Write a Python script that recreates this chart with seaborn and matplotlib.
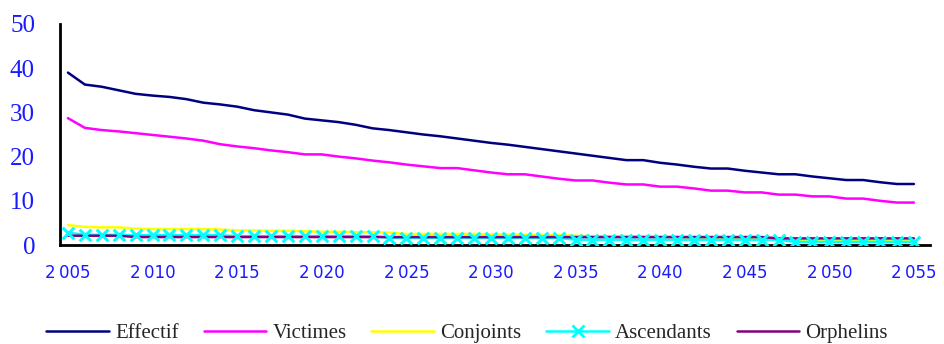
import matplotlib
matplotlib.use("Agg")
import matplotlib.pyplot as plt
from matplotlib.lines import Line2D
import seaborn as sns
import pandas as pd

years = list(range(2005, 2056))
effectif = [39.0, 36.3, 35.8, 35.0, 34.2, 33.8, 33.5, 33.0, 32.2, 31.8,
            31.3, 30.5, 30.0, 29.5, 28.6, 28.2, 27.8, 27.2, 26.4, 26.0,
            25.5, 25.0, 24.6, 24.1, 23.6, 23.1, 22.7, 22.2, 21.7, 21.2,
            20.7, 20.2, 19.7, 19.2, 19.2, 18.6, 18.2, 17.7, 17.3, 17.3,
            16.8, 16.4, 16.0, 16.0, 15.5, 15.1, 14.7, 14.7, 14.2, 13.8, 13.8]
victimes = [28.7, 26.5, 26.0, 25.7, 25.3, 24.9, 24.5, 24.1, 23.6, 22.8,
            22.3, 21.9, 21.4, 21.0, 20.5, 20.5, 20.0, 19.6, 19.1, 18.7,
            18.2, 17.8, 17.4, 17.4, 16.9, 16.4, 16.0, 16.0, 15.5, 15.0,
            14.6, 14.6, 14.1, 13.7, 13.7, 13.2, 13.2, 12.8, 12.3, 12.3,
            11.9, 11.9, 11.4, 11.4, 11.0, 11.0, 10.5, 10.5, 10.0, 9.6, 9.6]
conjoints = [4.5, 4.1, 4.0, 4.0, 3.7, 3.6, 3.6, 3.6, 3.6, 3.5,
             3.3, 3.3, 3.2, 3.2, 3.1, 3.0, 3.0, 2.9, 2.9, 2.8,
             2.5, 2.5, 2.5, 2.5, 2.5, 2.4, 2.4, 2.3, 2.3, 2.2,
             2.1, 2.0, 2.0, 2.0, 1.9, 1.8, 1.8, 1.7, 1.7, 1.6,
             1.6, 1.5, 1.4, 1.2, 1.1, 1.1, 1.0, 1.0, 1.0, 1.0, 1.0]
ascendants = [2.8, 2.3, 2.3, 2.3, 2.2, 2.2, 2.2, 2.2, 2.2, 2.2,
              2.0, 2.0, 2.0, 2.0, 2.0, 2.0, 2.0, 2.0, 2.0, 1.6,
              1.6, 1.6, 1.6, 1.6, 1.6, 1.6, 1.6, 1.6, 1.6, 1.6,
              1.2, 1.2, 1.2, 1.2, 1.2, 1.2, 1.2, 1.2, 1.2, 1.2,
              1.2, 1.2, 1.2, 0.7, 0.7, 0.7, 0.7, 0.7, 0.7, 0.7, 0.7]
orphelins = [2.1, 2.1, 2.1, 2.1, 1.8, 1.8, 1.8, 1.8, 1.8, 1.8,
             1.8, 1.8, 1.8, 1.8, 1.8, 1.8, 1.8, 1.8, 1.8, 1.8,
             1.8, 1.8, 1.8, 1.8, 1.8, 1.8, 1.8, 1.8, 1.8, 1.8,
             1.8, 1.8, 1.8, 1.8, 1.8, 1.8, 1.8, 1.8, 1.8, 1.8,
             1.8, 1.8, 1.5, 1.5, 1.5, 1.5, 1.5, 1.5, 1.5, 1.5, 1.5]

series_names = ["Effectif", "Victimes", "Conjoints", "Ascendants", "Orphelins"]
series_values = [effectif, victimes, conjoints, ascendants, orphelins]
colors = ["#000080", "#ff00ff", "#ffff00", "#00ffff", "#800080"]
x_tick_years = list(range(2005, 2056, 5))
y_ticks = [0, 10, 20, 30, 40, 50]

sns.set_theme(style="white")
plt.rcParams["font.family"] = ["DejaVu Sans"]

df = pd.DataFrame({"Année": years * len(series_names),
                   "Valeur": sum(series_values, []),
                   "Série": sum([[n] * len(years) for n in series_names], [])})
palette = dict(zip(series_names, colors))

fig = plt.figure(figsize=(9.44, 3.44), dpi=100)
ax = fig.add_axes([60 / 944, 99 / 344, 870 / 944, 221 / 344])

sns.lineplot(data=df, x="Année", y="Valeur", hue="Série", palette=palette,
             hue_order=series_names, dashes=False, linewidth=1.8, ax=ax,
             legend=False)
asc = df[df["Série"] == "Ascendants"]
sns.scatterplot(data=asc, x="Année", y="Valeur", marker="x", color=colors[3],
                s=70, linewidth=2.2, ax=ax, legend=False, zorder=5)

ax.set_xlim(2004.53, 2055.95)
ax.set_ylim(0, 50)
ax.set_xticks(x_tick_years)
ax.set_xticklabels([f"{y // 1000}\u2009{y % 1000:03d}" for y in x_tick_years],
                   fontsize=12, color="#1a1aff", family="DejaVu Sans")
ax.set_yticks(y_ticks)
ax.set_yticklabels([str(v) for v in y_ticks], fontsize=18, color="#1a1aff",
                   family=["Liberation Serif", "DejaVu Serif"])
ax.tick_params(axis="x", length=0, pad=14)
ax.tick_params(axis="y", length=0, pad=18)
ax.set_xlabel("")
ax.set_ylabel("")
sns.despine(ax=ax)
for s in ["left", "bottom"]:
    ax.spines[s].set_color("black")
    ax.spines[s].set_linewidth(2)
ax.grid(False)

handles = []
for name, col in zip(series_names, colors):
    if name == "Ascendants":
        handles.append(Line2D([], [], color=col, linewidth=1.8, marker="x",
                              markersize=8, markeredgewidth=2))
    else:
        handles.append(Line2D([], [], color=col, linewidth=1.8))
ax.legend(handles, series_names, loc="upper center",
          bbox_to_anchor=(0.468, -0.27),
          ncol=5, frameon=False, handlelength=3.0, columnspacing=1.2,
          handletextpad=0.3,
          prop={"family": ["Liberation Serif", "DejaVu Serif"], "size": 15})

fig.savefig("out.png", dpi=100)
